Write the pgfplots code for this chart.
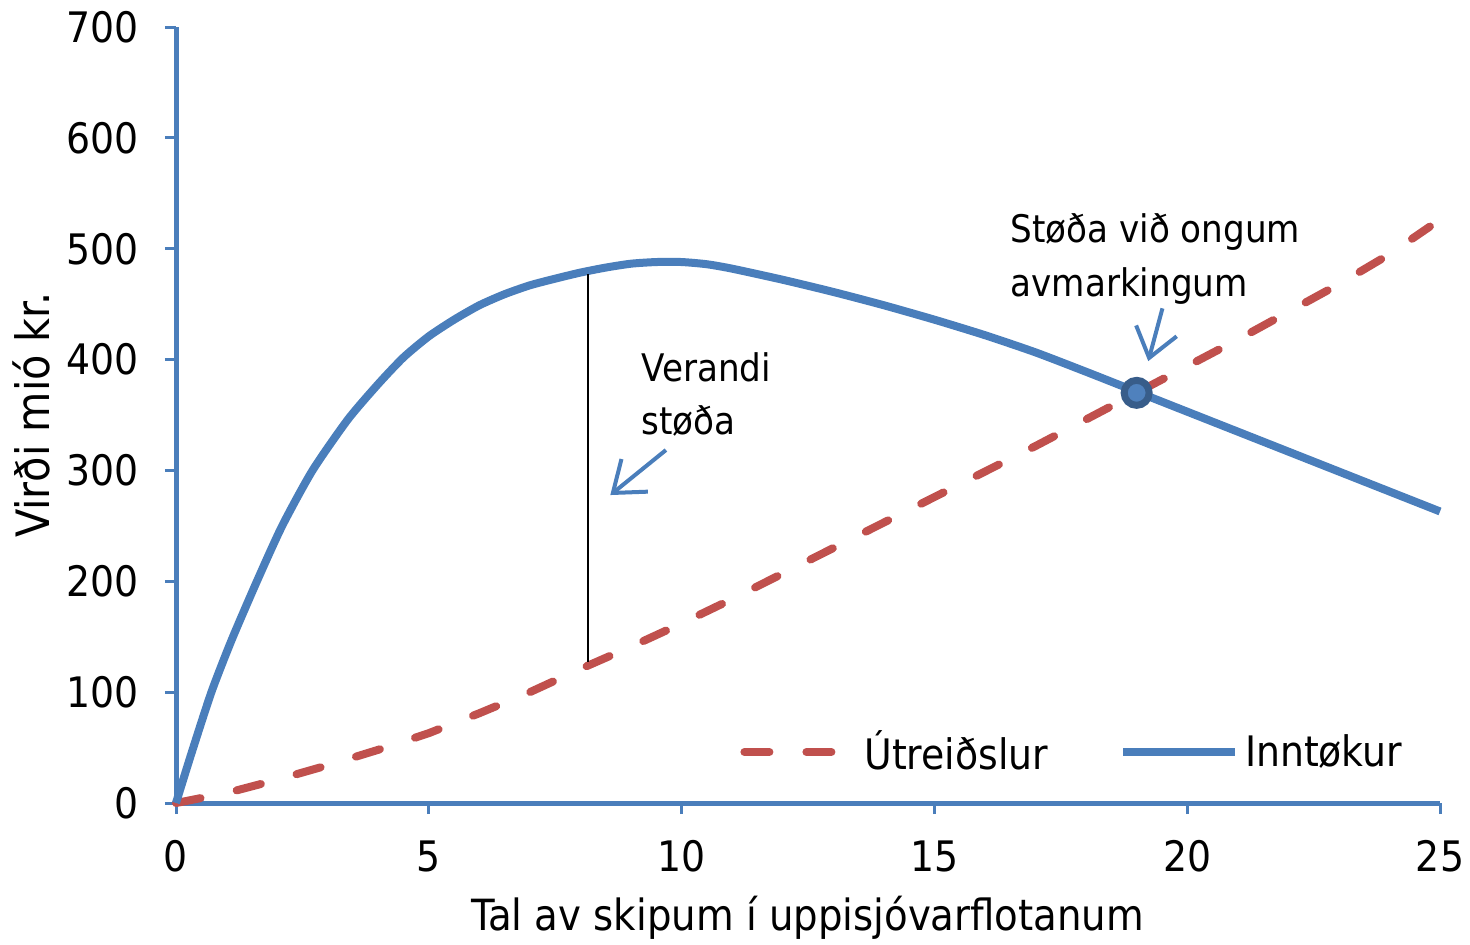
\documentclass[border=0pt]{standalone}
\usepackage{fontspec}
\setmainfont{DejaVu Sans Condensed}
\usepackage{pgfplots}
\pgfplotsset{compat=1.18}
\usepackage{pgfplotstable}
\usetikzlibrary{arrows.meta}
\definecolor{axisblue}{HTML}{4A7EBB}
\definecolor{curveblue}{HTML}{4A7EBB}
\definecolor{markfill}{HTML}{4F81BD}
\definecolor{markdraw}{HTML}{385D8A}
\definecolor{costred}{HTML}{C0504D}

\pgfplotsset{
  redlegend/.style={legend image code/.code={\draw[##1] (0pt,0pt) -- (52pt,0pt); \path (55pt,0pt);}},
  bluelegend/.style={legend image code/.code={\draw[##1] (0pt,0pt) -- (56pt,0pt);}},
}

\pgfplotstableread{
x y
0 0
0.3 44
0.7 100
1.1 147
1.6 200
2.1 250
2.7 300
3.4 346
4.0 378
4.5 402
5.0 421
5.5 436
6.0 449
6.5 459
7.0 467
7.5 473
8.0 478.5
8.5 483
9.0 486.5
9.5 488
10.0 488
10.5 486
11.0 482
12.0 472
13.0 461
14.0 449
15.0 436
16.0 422
17.0 406.5
18.0 389
19.0 371
20.0 353
21.0 335
22.0 317
23.0 299
24.0 281
25.0 263
}\revenue

\pgfplotstableread{
x y
0 0
1 9
2 21
3 34
4 48
5 63
6 81
7 100
8 121
9 141
10 162
11 184
12 207
13 230
14 253
15 276
16 299
17 322
18 346
19 370
20 394
21 418
22 443
23 468
24 495
24.8 520
}\cost

\begin{document}
\begin{tikzpicture}
\begin{axis}[
  at={(0,0)}, anchor=south west,
  scale only axis,
  width=632pt, height=388pt,
  xmin=0, xmax=25, ymin=0, ymax=700,
  clip=false,
  axis x line*=bottom, axis y line*=left,
  axis line style={draw=axisblue, line width=2.5pt},
  xtick={0,5,10,15,20,25},
  ytick={0,100,200,300,400,500,600,700},
  tick align=outside,
  major tick length=5.5pt,
  tick style={draw=axisblue, line width=1.5pt},
  /pgf/number format/assume math mode=true,
  ticklabel style={font=\fontsize{21}{25}\selectfont, inner sep=0pt},
  xticklabel style={anchor=north},
  yticklabel style={anchor=east},
  xticklabel shift=13pt,
  yticklabel shift=13pt,
  xlabel={Tal av skipum í uppisjóvarflotanum},
  ylabel={Virði mió kr.},
  xlabel style={font=\fontsize{21.5}{25}\selectfont, inner sep=0pt,
    at={([yshift=-63.5pt]axis description cs:0.5,0)}, anchor=base},
  ylabel style={font=\fontsize{23}{27}\selectfont, inner sep=0pt,
    at={([xshift=-63pt]axis description cs:0,0.5)}, anchor=base},
  legend columns=2,
  legend style={at={(axis description cs:0.4462,0.0657)}, anchor=west,
    draw=none, fill=none, inner sep=0pt,
    font=\fontsize{21}{25}\selectfont,
    nodes={inner sep=3pt},
    /tikz/every even column/.append style={column sep=32.5pt}},
]
\addplot[costred, line width=4pt, line cap=round, dash pattern=on 12.5pt off 18.5pt, redlegend]
  table[x=x,y=y] {\cost};
\addlegendentry{Útreiðslur}
\addplot[curveblue, line width=4pt, smooth, tension=0.4, bluelegend]
  table[x=x,y=y] {\revenue};
\addlegendentry{Inntøkur}
\addplot[black, line width=1.2pt, forget plot] coordinates {(8.15,127) (8.15,477)};
\addplot[only marks, mark=*, mark size=6.25pt, forget plot,
  mark options={fill=markfill, draw=markdraw, line width=3.5pt}] coordinates {(19,370)};

\node[anchor=base west, inner sep=0pt, font=\fontsize{19}{23}\selectfont] at (axis cs:9.2,380) {Verandi};
\node[anchor=base west, inner sep=0pt, font=\fontsize{19}{23}\selectfont] at (axis cs:9.2,332) {støða};
\node[anchor=base west, inner sep=0pt, font=\fontsize{19}{23}\selectfont] at (axis cs:16.5,506) {Støða við ongum};
\node[anchor=base west, inner sep=0pt, font=\fontsize{19}{23}\selectfont] at (axis cs:16.5,457) {avmarkingum};
\draw[curveblue, line width=2pt, -{Straight Barb[length=14pt,width=21pt,line width=2pt]}]
  (axis cs:9.69,318.4) -- (axis cs:8.59,277.8);
\draw[curveblue, line width=2pt, -{Straight Barb[length=14pt,width=21pt,line width=2pt]}]
  (axis cs:19.51,446.2) -- (axis cs:19.23,398.6);
\end{axis}
\pgfresetboundingbox
\path[use as bounding box] (-88pt,-70.5pt) rectangle (647pt,401.5pt);
\end{tikzpicture}
\end{document}
